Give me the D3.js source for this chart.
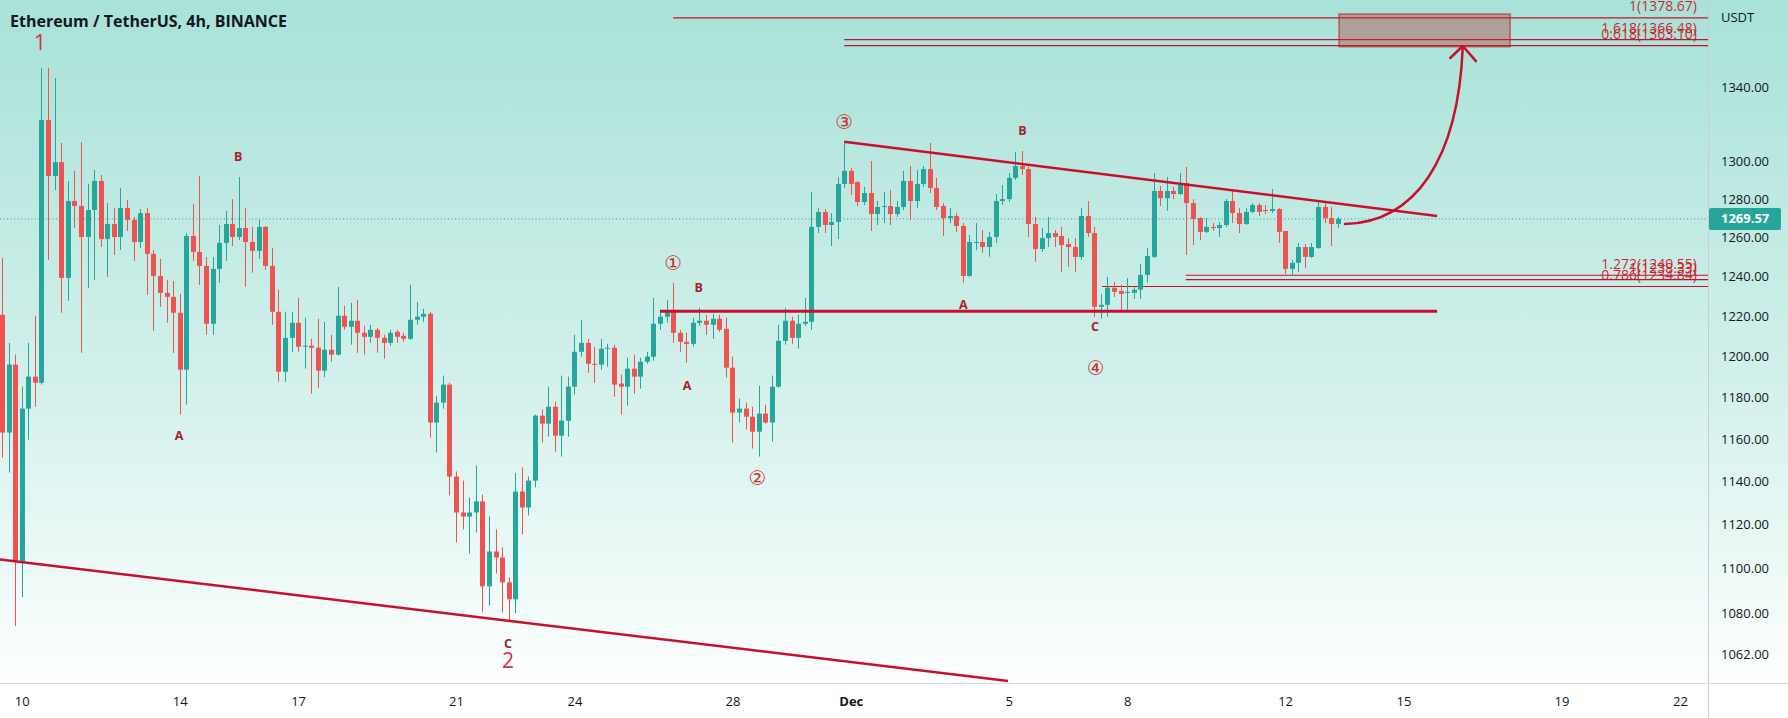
<!DOCTYPE html>
<html><head><meta charset="utf-8">
<script src="https://cdn.jsdelivr.net/npm/d3@7"></script>
<style>html,body{margin:0;padding:0;background:#fff;}svg{display:block;}</style>
</head><body>
<svg id="chart" width="1788" height="718"></svg>
<script>
// ---------- DATA ----------
const firstBar = Date.UTC(2022, 10, 9, 12); // first 4h candle open (UTC)
const barHours = 4;
// [open, high, low, close] per 4h candle, ETH/USDT
const ohlc = [
[1220.6,1249.4,1151.1,1163.0],[1163.0,1206.6,1144.1,1195.9],[1195.9,1200.8,1074.2,1103.1],[1103.1,1185.1,1087.0,1174.5],
[1174.5,1206.6,1159.6,1190.0],[1190.0,1220.1,1175.4,1187.0],[1187.0,1350.7,1186.1,1322.1],[1322.1,1350.7,1248.4,1292.1],
[1292.1,1345.1,1284.7,1299.5],[1299.5,1309.7,1221.6,1239.2],[1239.2,1289.5,1227.6,1278.9],[1278.9,1294.8,1264.8,1276.3],
[1276.3,1310.2,1201.7,1260.2],[1260.2,1287.9,1234.2,1274.2],[1274.2,1295.3,1238.2,1289.5],[1289.5,1292.7,1255.0,1259.1],
[1259.1,1277.8,1239.7,1266.9],[1266.9,1275.2,1250.9,1260.2],[1260.2,1285.8,1253.5,1275.2],[1275.2,1279.4,1263.3,1269.0],
[1269.0,1270.6,1247.9,1257.6],[1257.6,1274.7,1254.5,1272.6],[1272.6,1275.2,1230.6,1251.5],[1251.5,1253.5,1212.6,1240.2],
[1240.2,1248.9,1224.6,1231.6],[1231.6,1238.2,1216.6,1229.6],[1229.6,1237.7,1201.7,1221.6],[1221.6,1231.1,1171.6,1193.4],
[1193.4,1262.2,1176.4,1260.7],[1260.7,1277.3,1247.9,1252.5],[1252.5,1292.1,1235.7,1245.3],[1245.3,1249.9,1210.6,1216.1],
[1216.1,1249.9,1210.6,1243.8],[1243.8,1266.4,1236.7,1257.1],[1257.1,1273.7,1247.9,1266.9],[1266.9,1279.9,1255.5,1260.2],
[1260.2,1291.6,1258.6,1264.8],[1264.8,1275.2,1234.7,1257.6],[1257.6,1265.4,1241.8,1253.0],[1253.0,1269.0,1248.9,1265.4],
[1265.4,1265.9,1243.3,1245.3],[1245.3,1254.5,1215.6,1222.1],[1222.1,1233.2,1187.5,1192.4],[1192.4,1222.1,1187.5,1209.1],
[1209.1,1222.1,1202.2,1216.6],[1216.6,1229.1,1202.2,1204.7],[1204.7,1219.1,1193.9,1205.2],[1205.2,1208.6,1181.7,1204.2],
[1204.2,1218.6,1184.6,1192.9],[1192.9,1217.1,1189.8,1203.2],[1203.2,1210.6,1197.3,1200.8],[1200.8,1234.7,1200.3,1220.1],
[1220.1,1225.1,1213.1,1214.6],[1214.6,1226.6,1205.7,1217.6],[1217.6,1228.1,1201.7,1211.6],[1211.6,1215.1,1200.8,1209.6],
[1209.6,1215.6,1206.6,1213.1],[1213.1,1214.1,1201.7,1209.1],[1209.1,1210.6,1198.8,1206.6],[1206.6,1213.1,1205.2,1211.6],
[1212.1,1213.1,1206.6,1209.6],[1210.1,1211.6,1207.1,1208.6],[1208.6,1235.7,1208.1,1218.1],[1218.1,1227.1,1215.6,1219.6],
[1219.6,1223.6,1217.1,1221.1],[1221.1,1222.1,1160.6,1167.8],[1167.8,1180.7,1153.5,1177.4],[1177.4,1190.5,1174.5,1186.1],
[1186.1,1187.0,1133.4,1142.2],[1142.2,1144.6,1111.7,1125.5],[1125.5,1140.3,1117.7,1123.6],[1123.6,1132.4,1106.7,1125.5],
[1125.5,1147.4,1116.3,1130.6],[1130.6,1133.8,1080.3,1091.9],[1091.9,1123.6,1083.4,1107.6],[1107.6,1117.7,1097.7,1104.9],
[1104.9,1109.5,1080.3,1093.7],[1093.7,1095.9,1075.9,1086.1],[1086.1,1143.9,1079.9,1135.2],[1135.2,1146.5,1115.4,1127.8],
[1127.8,1142.2,1124.1,1140.3],[1140.3,1171.6,1137.1,1171.1],[1171.1,1174.0,1158.2,1167.3],[1167.3,1185.1,1161.0,1175.4],
[1175.4,1177.8,1153.9,1161.5],[1161.5,1190.5,1151.6,1168.7],[1168.7,1190.0,1161.0,1185.1],[1185.1,1210.6,1181.2,1202.2],
[1202.2,1218.1,1199.8,1206.6],[1206.6,1208.6,1191.9,1196.3],[1196.3,1204.7,1187.0,1195.9],[1195.9,1208.6,1193.4,1203.7],
[1203.7,1206.1,1194.9,1204.2],[1204.2,1205.7,1180.2,1186.1],[1186.6,1191.0,1171.6,1185.1],[1185.1,1199.3,1175.9,1193.9],
[1193.9,1200.8,1181.7,1190.0],[1190.0,1199.3,1184.1,1197.3],[1197.3,1202.2,1196.3,1199.8],[1199.8,1229.1,1197.8,1216.1],
[1216.1,1223.1,1213.1,1219.6],[1219.6,1228.1,1216.6,1222.6],[1222.6,1236.7,1206.6,1211.6],[1211.6,1213.1,1202.2,1207.1],
[1207.1,1211.6,1196.8,1206.1],[1206.1,1219.1,1204.7,1216.6],[1216.6,1224.1,1215.1,1217.6],[1217.6,1220.6,1210.6,1215.6],
[1215.6,1221.1,1208.6,1218.6],[1218.6,1220.6,1212.1,1213.1],[1213.6,1219.1,1189.5,1194.4],[1194.4,1199.8,1158.2,1172.6],
[1172.6,1179.3,1167.8,1174.5],[1174.5,1177.4,1164.4,1170.6],[1170.6,1175.4,1155.4,1163.4],[1163.4,1185.6,1151.6,1172.1],
[1172.1,1176.4,1167.3,1167.8],[1167.8,1190.5,1158.7,1185.1],[1185.1,1215.6,1184.6,1207.6],[1207.6,1224.1,1205.7,1217.6],
[1217.6,1219.6,1206.1,1209.1],[1209.1,1220.6,1203.7,1216.1],[1216.1,1229.1,1215.1,1217.1],[1217.1,1283.7,1213.1,1265.4],
[1265.4,1275.2,1262.2,1273.2],[1273.2,1274.7,1262.2,1266.4],[1266.4,1272.6,1255.5,1268.0],[1268.0,1291.6,1259.1,1287.9],
[1287.9,1310.2,1285.8,1294.8],[1294.8,1296.4,1282.1,1287.9],[1288.9,1289.5,1276.3,1278.4],[1278.4,1286.3,1276.8,1283.1],
[1283.1,1300.1,1263.3,1272.1],[1272.1,1278.9,1266.4,1275.8],[1275.8,1283.7,1267.4,1276.3],[1276.3,1284.7,1266.4,1272.1],
[1272.1,1278.9,1270.6,1275.8],[1275.8,1294.8,1274.2,1289.5],[1289.5,1297.4,1269.0,1278.9],[1278.9,1295.3,1275.2,1287.9],
[1287.9,1297.4,1286.3,1295.8],[1295.8,1309.7,1283.1,1285.8],[1285.8,1291.1,1274.2,1275.8],[1276.3,1277.8,1260.7,1270.0],
[1270.0,1275.2,1267.4,1271.1],[1271.1,1272.6,1262.8,1265.9],[1265.9,1267.4,1236.7,1240.2],[1240.2,1261.2,1239.7,1257.6],
[1257.1,1267.4,1253.5,1257.6],[1257.6,1263.8,1252.0,1255.0],[1255.0,1262.8,1250.0,1260.2],[1260.2,1282.6,1257.1,1278.9],
[1278.9,1287.4,1276.8,1279.9],[1279.9,1293.7,1278.4,1291.1],[1291.1,1304.9,1290.0,1297.4],[1297.4,1305.4,1292.7,1295.8],
[1295.8,1296.9,1260.2,1266.9],[1266.9,1270.6,1247.4,1254.0],[1254.0,1264.8,1252.5,1259.6],[1259.6,1270.6,1255.0,1262.2],
[1262.2,1263.8,1255.0,1260.2],[1260.7,1265.4,1242.3,1256.0],[1256.5,1259.6,1244.8,1255.0],[1255.0,1259.6,1242.3,1249.9],
[1249.9,1275.2,1248.4,1271.1],[1271.1,1278.9,1260.2,1262.2],[1262.2,1265.4,1219.6,1224.6],[1224.6,1231.1,1218.6,1225.6],
[1225.6,1239.7,1219.6,1234.2],[1234.2,1237.2,1229.6,1232.1],[1232.6,1235.7,1223.1,1231.1],[1231.6,1239.2,1223.1,1232.1],
[1231.6,1234.7,1228.6,1233.2],[1233.2,1246.4,1228.6,1240.7],[1240.7,1254.5,1236.7,1250.4],[1249.9,1293.7,1249.4,1284.2],
[1284.2,1286.8,1276.3,1280.4],[1280.4,1291.6,1273.7,1284.2],[1284.2,1286.3,1279.9,1282.6],[1282.6,1293.7,1282.1,1287.4],
[1288.4,1296.9,1250.9,1277.8],[1277.8,1279.9,1256.0,1269.5],[1270.0,1270.6,1258.6,1262.8],[1262.8,1270.0,1262.2,1265.4],
[1265.4,1267.4,1263.3,1264.8],[1264.8,1268.0,1260.2,1266.4],[1266.4,1279.9,1265.4,1278.9],[1278.9,1284.2,1267.4,1272.6],
[1272.6,1275.2,1262.2,1266.9],[1266.9,1275.2,1266.4,1273.2],[1273.2,1277.8,1272.6,1276.8],[1276.8,1277.8,1271.1,1273.2],
[1274.2,1276.8,1272.1,1273.7],[1273.7,1285.3,1272.6,1274.7],[1274.7,1275.2,1257.1,1262.8],[1263.3,1263.3,1241.3,1243.8],
[1243.8,1248.4,1240.2,1246.9],[1246.9,1257.1,1242.3,1255.0],[1255.0,1256.5,1244.3,1249.9],[1249.9,1257.1,1249.4,1255.0],
[1254.5,1278.4,1254.0,1275.8],[1275.8,1278.9,1267.4,1270.0],[1270.0,1275.8,1255.5,1266.9],[1266.9,1270.6,1264.8,1269.57]
];
const lastPrice = 1269.57;
const priceTicks = [1340,1300,1280,1260,1240,1220,1200,1180,1160,1140,1120,1100,1080,1062];
const dateTickDays = ["2022-11-10","2022-11-14","2022-11-17","2022-11-21","2022-11-24","2022-11-28","2022-12-01","2022-12-05","2022-12-08","2022-12-12","2022-12-15","2022-12-19","2022-12-22"];
const dateTickLabels = ["10","14","17","21","24","28","Dec","5","8","12","15","19","22"];
const title = "Ethereum / TetherUS, 4h, BINANCE";

// drawings, in (bar index, price)
const lowerTrend = [[-0.3,1104.0],[152.9,1050.3]];
const upperTrend = [[128.0,1310.4],[218.1,1271.1]];
const supportLine = [[100.0,1222.3],[218.1,1222.3]];
const fibText  = ["1(1378.67)","1.618(1366.48)","0.618(1363.10)","1.272(1240.55)","1(1238.33)","0.786(1234.84)"];
const fibPrice = [1378.67,1366.48,1363.10,1240.55,1238.33,1234.84];
const fibStart = [102.0,128.0,128.0,179.9,179.9,167.2];
const targetBox = [[203.2,1380.9],[229.2,1362.5]];
const arrowCurve = [[204.1,1266.9],[214.7,1267.9],[221.3,1300.6],[222.0,1362.3]];
const arrowHead = [[220.1,1356.2],[222.0,1362.9],[224.0,1354.5]];
const waveText  = ["1","2","C","A","B","①","B","A","②","③","B","A","C","④"];
const waveBar   = [5.78,76.9,76.9,26.9,35.9,102.0,105.9,104.1,114.8,128.0,155.1,146.1,166.1,166.2];
const wavePrice = [1360.7,1055.9,1064.5,1159.3,1300.2,1246.8,1232.2,1183.6,1141.6,1321.2,1314.0,1223.5,1212.6,1194.1];

// ---------- CHART ----------
const W = 1788, H = 718, plotR = 1708, plotB = 683;
const svg = d3.select("#chart");
const barMs = barHours*3600*1000;
const tAt = k => new Date(firstBar + k*barMs);

const x = d3.scaleUtc().domain([tAt(0), tAt(255)]).range([2, 1679.9]);
const y = d3.scaleLog().domain([1062, 1340]).range([654.0, 87.3]);
const px = d => x(tAt(d[0])), py = d => y(d[1]);

const defs = svg.append("defs");
const grad = defs.append("linearGradient").attr("id","bg").attr("x1",0).attr("y1",0).attr("x2",0).attr("y2",1);
grad.append("stop").attr("offset","0%").attr("stop-color","#a8e2d8");
grad.append("stop").attr("offset","55%").attr("stop-color","#d2f0eb");
grad.append("stop").attr("offset","100%").attr("stop-color","#fdfffe");
defs.append("clipPath").attr("id","plot").append("rect").attr("x",0).attr("y",0).attr("width",plotR).attr("height",plotB);

svg.append("rect").attr("width",W).attr("height",H).attr("fill","#ffffff");
svg.append("rect").attr("width",W).attr("height",plotB).attr("fill","url(#bg)");

const plot = svg.append("g").attr("clip-path","url(#plot)");
const RED = "#c8102e";

// last price dotted line
plot.append("line").attr("x1",0).attr("x2",plotR)
  .attr("y1",y(lastPrice)).attr("y2",y(lastPrice))
  .attr("stroke","#26a69a").attr("stroke-width",1).attr("stroke-dasharray","1,2.5");

// fib lines
fibPrice.forEach((p,i)=>{
  plot.append("line").attr("x1",x(tAt(fibStart[i]))).attr("x2",plotR)
    .attr("y1",y(p)).attr("y2",y(p)).attr("stroke",RED).attr("stroke-width",1.2);
});

// target box
plot.append("rect")
  .attr("x",px(targetBox[0])).attr("y",py(targetBox[0]))
  .attr("width",px(targetBox[1])-px(targetBox[0])).attr("height",py(targetBox[1])-py(targetBox[0]))
  .attr("fill","rgba(185,50,50,0.38)").attr("stroke","rgba(170,30,30,0.6)").attr("stroke-width",1.5);

// candles
const UP="#26a69a", DN="#ef5350";
const cg = plot.append("g");
ohlc.forEach((d,i)=>{
  const [o,h,l,c] = d;
  const cx = Math.round(x(tAt(i))) + 0.5;
  const col = c >= o ? UP : DN;
  cg.append("line").attr("x1",cx).attr("x2",cx).attr("y1",y(h)).attr("y2",y(l))
    .attr("stroke",col).attr("stroke-width",1);
  const top = y(Math.max(o,c)), bot = y(Math.min(o,c));
  cg.append("rect").attr("x",cx-2.5).attr("width",5)
    .attr("y",top).attr("height",Math.max(1,bot-top)).attr("fill",col);
});

// trend lines
const line = d3.line().x(px).y(py);
plot.append("path").attr("d",line(lowerTrend)).attr("stroke",RED).attr("stroke-width",2.5).attr("fill","none");
plot.append("path").attr("d",line(upperTrend)).attr("stroke",RED).attr("stroke-width",2.5).attr("fill","none");
plot.append("path").attr("d",line(supportLine)).attr("stroke",RED).attr("stroke-width",3).attr("fill","none");

// curved arrow
const a = arrowCurve.map(d=>[px(d),py(d)]);
const pth = d3.path(); pth.moveTo(a[0][0],a[0][1]); pth.bezierCurveTo(a[1][0],a[1][1],a[2][0],a[2][1],a[3][0],a[3][1]);
plot.append("path").attr("d",pth.toString()).attr("stroke",RED).attr("stroke-width",2.5).attr("fill","none").attr("stroke-linecap","round");
plot.append("path").attr("d",line(arrowHead)).attr("stroke",RED).attr("stroke-width",2.5).attr("fill","none").attr("stroke-linecap","round").attr("stroke-linejoin","round");

// fib labels
fibPrice.forEach((p,i)=>{
  plot.append("text").attr("x",plotR-11).attr("y",y(p)-6.5).attr("text-anchor","end")
    .attr("font-family","'Open Sans', sans-serif").attr("font-size",14).attr("fill","#d10f22")
    .attr("fill-opacity",0.92).text(fibText[i]);
});

// wave labels
waveText.forEach((t,i)=>{
  const big = (t==="1"||t==="2");
  const circ = "①②③④".includes(t);
  const tx = plot.append("text").attr("x",x(tAt(waveBar[i]))).attr("y",y(wavePrice[i]))
    .attr("text-anchor","middle").text(t);
  if (big) tx.attr("font-family","'Open Sans', sans-serif").attr("font-size",21).attr("fill","#d6303f");
  else if (circ) tx.attr("font-family","'DejaVu Sans', sans-serif").attr("font-size",20).attr("fill","#d22b2b").attr("dominant-baseline","central");
  else tx.attr("font-family","'Open Sans', sans-serif").attr("font-size",12.5).attr("font-weight","bold").attr("fill","#a82228");
});

// title
svg.append("text").attr("x",10).attr("y",27).attr("font-family","'Open Sans', sans-serif")
  .attr("font-size",16).attr("font-weight","bold").attr("fill","#131722").text(title);

// axes frame
svg.append("line").attr("x1",plotR+0.5).attr("x2",plotR+0.5).attr("y1",0).attr("y2",H).attr("stroke","#c9cdd3").attr("stroke-width",1);
svg.append("line").attr("x1",0).attr("x2",W).attr("y1",plotB+0.5).attr("y2",plotB+0.5).attr("stroke","#dadde2").attr("stroke-width",1);

// y axis
const yAxis = d3.axisRight(y).tickValues(priceTicks).tickFormat(d3.format(".2f")).tickSize(0).tickPadding(13);
const ya = svg.append("g").attr("transform",`translate(${plotR},0)`).call(yAxis);
ya.select(".domain").remove();
ya.selectAll("text").attr("font-family","'Open Sans', sans-serif").attr("font-size",13).attr("fill","#131722");

svg.append("text").attr("x",1721).attr("y",17).attr("dy","0.35em").attr("font-family","'Open Sans', sans-serif")
  .attr("font-size",13).attr("fill","#131722").text("USDT");

// last price tag
svg.append("rect").attr("x",plotR+1).attr("y",y(lastPrice)-11).attr("width",72).attr("height",22).attr("rx",2).attr("fill","#26a69a");
svg.append("text").attr("x",1721).attr("y",y(lastPrice)).attr("dy","0.35em").attr("font-family","'Open Sans', sans-serif")
  .attr("font-size",13).attr("font-weight","bold").attr("fill","#ffffff").text(d3.format(".2f")(lastPrice));

// x axis
const dateVals = dateTickDays.map(s=>new Date(s+"T00:00:00Z"));
const xAxis = d3.axisBottom(x).tickValues(dateVals).tickFormat((d,i)=>dateTickLabels[i]).tickSize(0).tickPadding(14);
const xa = svg.append("g").attr("transform",`translate(0,${plotB})`).call(xAxis);
xa.select(".domain").remove();
xa.selectAll("text").attr("font-family","'Open Sans', sans-serif").attr("font-size",13).attr("fill","#131722")
  .attr("font-weight",(d,i)=>dateTickLabels[i]==="Dec"?"bold":"normal");
</script>
</body></html>
